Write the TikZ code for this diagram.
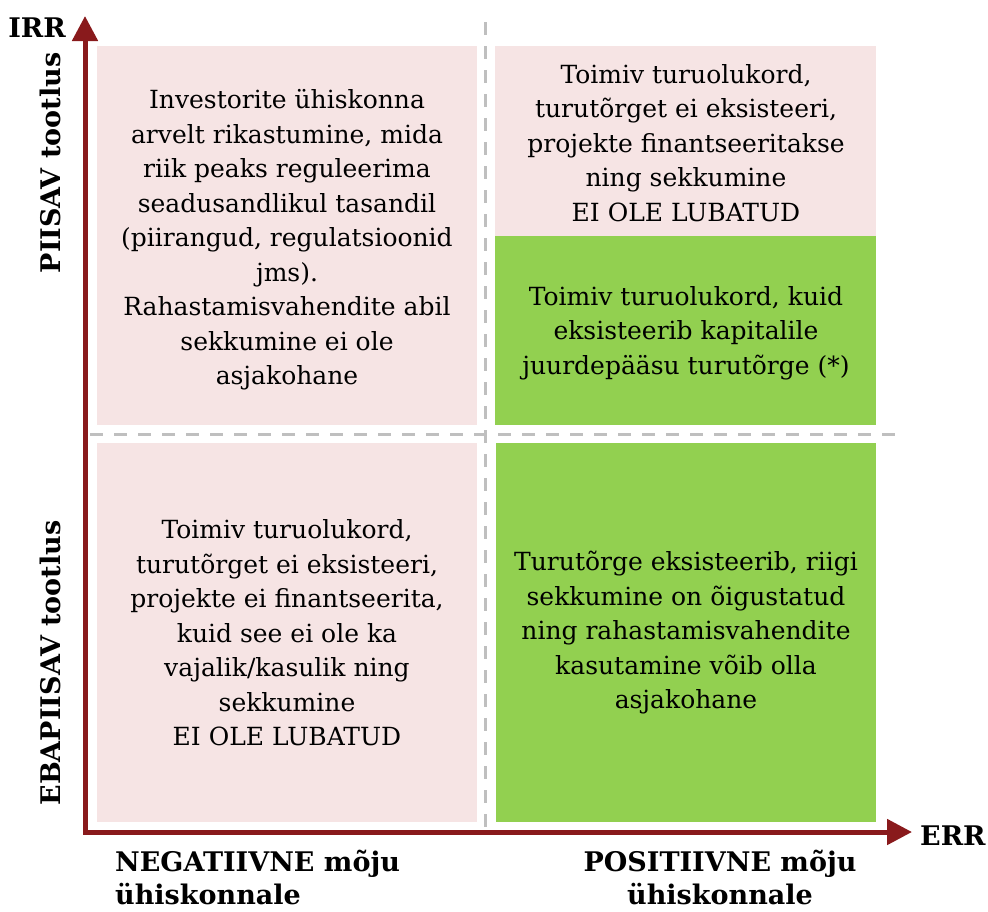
\documentclass[tikz,border=0pt]{standalone}
\usepackage{fontspec}
\setmainfont{DejaVu Serif}
\usetikzlibrary{arrows.meta}
\definecolor{axisred}{RGB}{137,26,28}
\definecolor{quadpink}{RGB}{246,228,228}
\definecolor{quadgreen}{RGB}{146,208,80}
\definecolor{guidegray}{RGB}{191,191,191}
\tikzset{
  quadtext/.style={align=center, font=\fontsize{25}{34.5}\selectfont, inner sep=0pt},
  axislabel/.style={font=\fontsize{27}{33}\selectfont\bfseries, inner sep=0pt},
  axisline/.style={draw=axisred, line width=5pt, line join=miter,
    {Triangle[length=25pt,width=25pt]}-{Triangle[length=25pt,width=25pt]}},
  guide/.style={draw=guidegray, line width=3pt, dash pattern=on 13pt off 11pt},
}
\begin{document}
\begin{tikzpicture}[x=1pt,y=-1pt]
\useasboundingbox (0,0) rectangle (988,911);

% quadrant fields
\fill[quadpink]  (97,46)  rectangle (477,425);
\fill[quadpink]  (97,443) rectangle (477,822);
\fill[quadpink]  (495,46) rectangle (876,236);
\fill[quadgreen] (495,236) rectangle (876,425);
\fill[quadgreen] (496,443) rectangle (876,822);

% dashed guides between quadrants
\coordinate (vtop) at (485,22);
\coordinate (vbot) at (485,830);
\coordinate (hleft) at (90,434);
\coordinate (hright) at (895,434);
\draw[guide] (vtop) -- (vbot);
\draw[guide] (hleft) -- (hright);

% quadrant texts
\node[quadtext] (tl) at (287,240) {Investorite ühiskonna\\arvelt rikastumine, mida\\riik peaks reguleerima\\seadusandlikul tasandil\\(piirangud, regulatsioonid\\jms).\\Rahastamisvahendite abil\\sekkumine ei ole\\asjakohane};
\node[quadtext] (tr) at (686,143) {Toimiv turuolukord,\\turutõrget ei eksisteeri,\\projekte finantseeritakse\\ning sekkumine\\EI OLE LUBATUD};
\node[quadtext] (trg) at (686,333) {Toimiv turuolukord, kuid\\eksisteerib kapitalile\\juurdepääsu turutõrge (*)};
\node[quadtext] (bl) at (287,633) {Toimiv turuolukord,\\turutõrget ei eksisteeri,\\projekte ei finantseerita,\\kuid see ei ole ka\\vajalik/kasulik ning\\sekkumine\\EI OLE LUBATUD};
\node[quadtext] (br) at (686,633) {Turutõrge eksisteerib, riigi\\sekkumine on õigustatud\\ning rahastamisvahendite\\kasutamine võib olla\\asjakohane};

% axes
\coordinate (origin) at (85,832);
\coordinate (ytip) at (85,16);
\coordinate (xtip) at (912,832);
\draw[axisline] (ytip) -- (origin) -- (xtip);

% axis labels
\node[axislabel, anchor=east] (irr) at (66,28) {IRR};
\node[axislabel, anchor=west] (err) at (920,836) {ERR};
\node[axislabel, rotate=90] (piisav) at (50,163) {PIISAV tootlus};
\node[axislabel, rotate=90] (ebapiisav) at (50,663) {EBAPIISAV tootlus};
\node[axislabel, align=left, anchor=north west] (neg) at (115,850) {NEGATIIVNE mõju\\ühiskonnale};
\node[axislabel, align=center, anchor=north] (pos) at (720,850) {POSITIIVNE mõju\\ühiskonnale};
\end{tikzpicture}
\end{document}
